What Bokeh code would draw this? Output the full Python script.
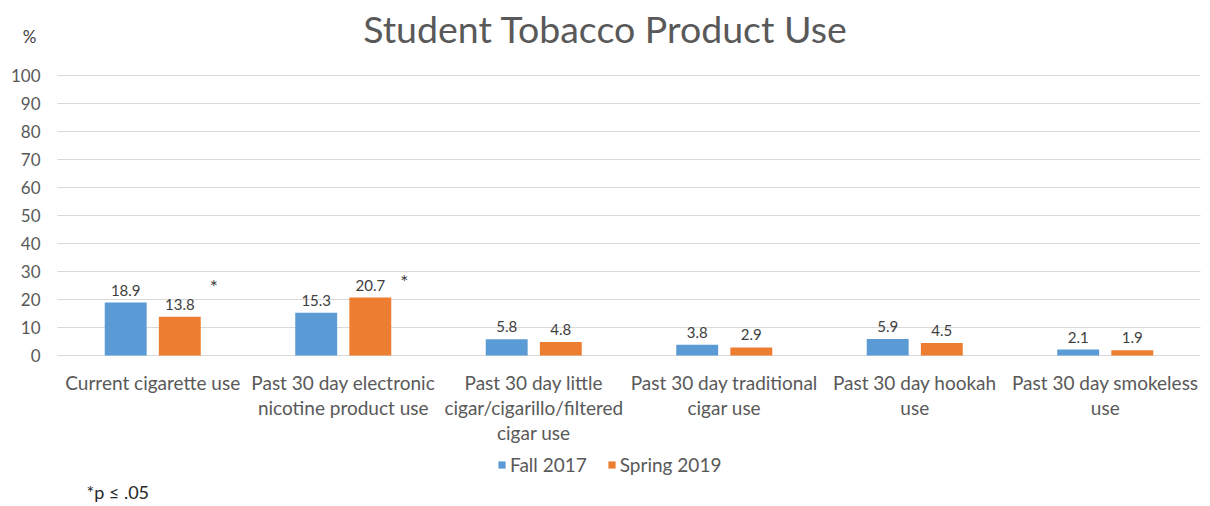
from bokeh.plotting import figure
from bokeh.models import ColumnDataSource, Legend, LegendItem, Label, Range1d
from bokeh.core.properties import value
from bokeh.embed import file_html
from bokeh.resources import INLINE

categories = [
    "Current cigarette use",
    "Past 30 day electronic\nnicotine product use",
    "Past 30 day little\ncigar/cigarillo/filtered\ncigar use",
    "Past 30 day traditional\ncigar use",
    "Past 30 day hookah\nuse",
    "Past 30 day smokeless\nuse",
]
fall_2017 = [18.9, 15.3, 5.8, 3.8, 5.9, 2.1]
spring_2019 = [13.8, 20.7, 4.8, 2.9, 4.5, 1.9]
significant = [True, True, False, False, False, False]
series_names = ["Fall 2017", "Spring 2019"]
y_ticks = list(range(0, 101, 10))

FONT = "Lato"
GREY = "#595959"
DARK = "#404040"
BLUE = "#5B9BD5"
ORANGE = "#ED7D31"

# canvas geometry (pixels)
W, H = 1210, 506
PLOT_L, PLOT_R = 57, 1200
PLOT_T, PLOT_B = 75, 355
n = len(categories)
px_per_cat = (PLOT_R - PLOT_L) / n
px_per_unit = (PLOT_B - PLOT_T) / 100.0

x_range = Range1d(-PLOT_L / px_per_cat, (W - PLOT_L) / px_per_cat)
y_range = Range1d(-(H - PLOT_B) / px_per_unit, 100 + PLOT_T / px_per_unit)

xc = [i + 0.5 for i in range(n)]
off = 0.142
bw = 0.22

src = ColumnDataSource(dict(
    xf=[x - off for x in xc],
    xs=[x + off for x in xc],
    xc=xc,
    cat=categories,
    fall=fall_2017,
    spring=spring_2019,
    fall_lbl=[f"{v:.1f}" for v in fall_2017],
    spring_lbl=[f"{v:.1f}" for v in spring_2019],
    zero=[0] * n,
))

star_src = ColumnDataSource(dict(
    x=[x + 0.32 for x, s in zip(xc, significant) if s],
    y=[max(f, s) for f, s, sig in zip(fall_2017, spring_2019, significant) if sig],
    t=["*" for s in significant if s],
))

grid_src = ColumnDataSource(dict(
    y=y_ticks,
    x0=[0] * len(y_ticks),
    x1=[n] * len(y_ticks),
    lbl=[str(t) for t in y_ticks],
))

p = figure(
    x_range=x_range, y_range=y_range,
    width=W, height=H,
    min_border=0, min_border_left=0, min_border_right=0,
    min_border_top=0, min_border_bottom=0,
    output_backend="svg", toolbar_location=None,
    background_fill_color="white", border_fill_color="white",
)
p.outline_line_color = None
p.axis.visible = False
p.grid.visible = False

# gridlines
p.segment(x0="x0", y0="y", x1="x1", y1="y", source=grid_src,
          line_color="#D9D9D9", line_width=1)
# y tick labels
p.text(x="x0", y="y", text="lbl", source=grid_src, x_offset=-17,
       text_align="right", text_baseline="middle",
       text_font=value(FONT), text_font_size="17px", text_color=GREY)

r1 = p.vbar(x="xf", top="fall", width=bw, source=src, fill_color=BLUE, line_color=None)
r2 = p.vbar(x="xs", top="spring", width=bw, source=src, fill_color=ORANGE, line_color=None)

p.text(x="xf", y="fall", text="fall_lbl", source=src,
       text_align="center", text_baseline="bottom", y_offset=-7,
       text_font=value(FONT), text_font_size="15px", text_color=DARK)
p.text(x="xs", y="spring", text="spring_lbl", source=src,
       text_align="center", text_baseline="bottom", y_offset=-7,
       text_font=value(FONT), text_font_size="15px", text_color=DARK)
p.text(x="x", y="y", text="t", source=star_src,
       text_align="center", text_baseline="middle", y_offset=-16,
       text_font=value(FONT), text_font_size="19px", text_color=DARK)

# category labels
p.text(x="xc", y="zero", text="cat", source=src,
       text_align="center", text_baseline="top", y_offset=15,
       text_line_height=1.1,
       text_font=value(FONT), text_font_size="19px", text_color=GREY)

# title and notes (screen units from canvas bottom-left)
p.add_layout(Label(x=605, y=H - 28, x_units="screen", y_units="screen",
                   text="Student Tobacco Product Use", text_align="center",
                   text_baseline="middle", text_font=FONT, text_font_size="37.5px",
                   text_color=GREY))
p.add_layout(Label(x=29, y=H - 36, x_units="screen", y_units="screen",
                   text="%", text_align="center", text_baseline="middle",
                   text_font=FONT, text_font_size="17px", text_color=DARK))
p.add_layout(Label(x=86, y=H - 491, x_units="screen", y_units="screen",
                   text="*p ≤ .05", text_align="left", text_baseline="middle",
                   text_font=FONT, text_font_size="18px", text_color="#262626"))

legend = Legend(items=[LegendItem(label=series_names[0], renderers=[r1]),
                       LegendItem(label=series_names[1], renderers=[r2])],
                orientation="horizontal", location=(497, H - 476),
                glyph_width=9, glyph_height=9, label_standoff=4, spacing=20,
                label_height=20,
                padding=0, margin=0, border_line_color=None, background_fill_alpha=0,
                label_text_font=FONT, label_text_font_size="19px", label_text_color=GREY)
p.add_layout(legend, "center")

open("out.html", "w").write(file_html(p, INLINE))
